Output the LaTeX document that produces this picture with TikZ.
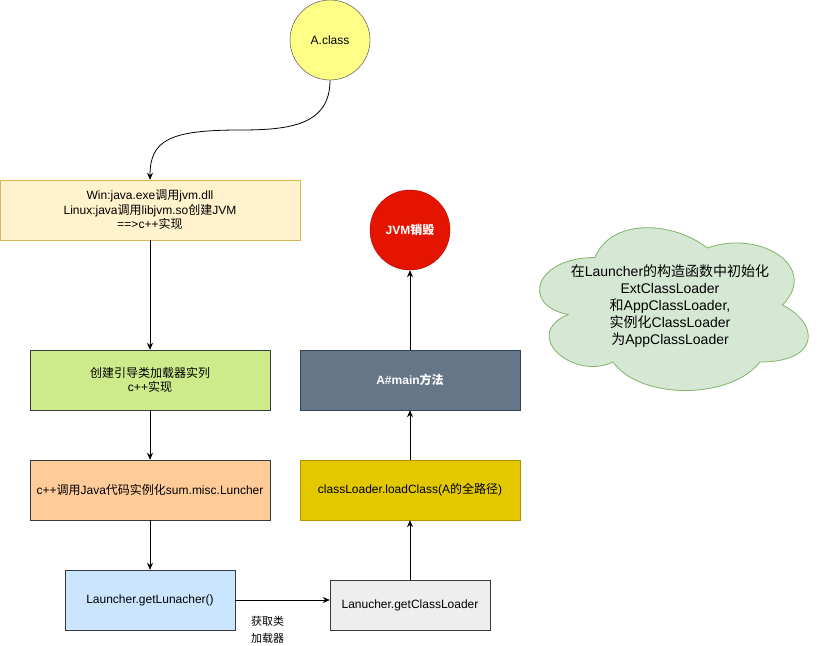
\documentclass[tikz,border=0pt]{standalone}
\usepackage{fontspec}
\setmainfont{Liberation Sans}
\newfontfamily\cjk{Noto Sans CJK SC}
\newcommand{\zh}[1]{{\cjk #1}}
\usetikzlibrary{arrows.meta}
\definecolor{darkline}{HTML}{36393D}
\definecolor{classfill}{HTML}{FFFF88}
\definecolor{winfill}{HTML}{FFF2CC}
\definecolor{winline}{HTML}{D6B656}
\definecolor{bootfill}{HTML}{CDEB8B}
\definecolor{javafill}{HTML}{FFCC99}
\definecolor{lunfill}{HTML}{CCE5FF}
\definecolor{getfill}{HTML}{EEEEEE}
\definecolor{loadfill}{HTML}{E3C800}
\definecolor{loadline}{HTML}{B09500}
\definecolor{mainfill}{HTML}{647687}
\definecolor{mainline}{HTML}{314354}
\definecolor{jvmfill}{HTML}{E51400}
\definecolor{jvmline}{HTML}{B20000}
\definecolor{cloudfill}{HTML}{D5E8D4}
\definecolor{cloudline}{HTML}{82B366}
\begin{document}
\begin{tikzpicture}[x=1pt, y=-1pt,
  every node/.style={font=\fontsize{12}{14.5}\selectfont, align=center, inner sep=0pt},
  stepbox/.style={draw=darkline, rectangle, minimum height=60pt},
  endpoint/.style={draw=darkline, circle, minimum size=80pt},
  flow/.style={-{Stealth[length=7pt, width=6pt]}, line width=0.8pt}]
\useasboundingbox (0,0) rectangle (821,645);
\node[endpoint, fill=classfill] (aclass) at (330,40) {A.class};
\node[stepbox, draw=winline, fill=winfill, minimum width=300pt] (win) at (150,210)
  {Win:java.exe\zh{调用}jvm.dll\\Linux:java\zh{调用}libjvm.so\zh{创建}JVM\\==>c++\zh{实现}};
\node[stepbox, fill=bootfill, minimum width=240pt] (boot) at (150,380) {\zh{创建引导类加载器实列}\\c++\zh{实现}};
\node[stepbox, fill=javafill, minimum width=240pt] (java) at (150,490) {c++\zh{调用}Java\zh{代码实例化}sum.misc.Luncher};
\node[stepbox, fill=lunfill, minimum width=170pt] (lun) at (150,600) {Launcher.getLunacher()};
\node[stepbox, fill=getfill, minimum width=160pt, minimum height=50pt] (getcl) at (410,605) {Lanucher.getClassLoader};
\node[stepbox, draw=loadline, fill=loadfill, minimum width=220pt] (load) at (410,490) {classLoader.loadClass(A\zh{的全路径})};
\node[stepbox, draw=mainline, fill=mainfill, minimum width=220pt, text=white, font=\fontsize{12}{14.5}\selectfont\bfseries] (main) at (410,380) {A\#main\zh{方法}};
\node[endpoint, draw=jvmline, fill=jvmfill, text=white, font=\fontsize{12}{14.5}\selectfont\bfseries] (jvm) at (410,230) {JVM\zh{销毁}};
% cloud
\draw[draw=cloudline, fill=cloudfill, line width=0.8pt] (595,257.5)
  .. controls (535,257.5) and (520,305) .. (568,314.5)
  .. controls (520,335.4) and (574,381) .. (613,362)
  .. controls (640,400) and (730,400) .. (760,362)
  .. controls (820,362) and (820,324) .. (782.5,305)
  .. controls (820,267) and (760,229) .. (707.5,248)
  .. controls (670,219.5) and (610,219.5) .. (595,257.5) -- cycle;
\node[font=\fontsize{14}{16.8}\selectfont] (note) at (670,306) {\zh{在}Launcher\zh{的构造函数中初始化}\\ExtClassLoader\\\zh{和}AppClassLoader,\\\zh{实例化}ClassLoader\\\zh{为}AppClassLoader};
% edges
\draw[flow] (aclass.south) .. controls (330,125) and (290,130) .. (240,130)
  .. controls (170,130) and (150,140) .. (win.north);
\draw[flow] (win) -- (boot);
\draw[flow] (boot) -- (java);
\draw[flow] (java) -- (lun);
\draw[flow] (lun) -- (lun -| getcl.west);
\node[anchor=north west, align=left, font=\fontsize{11}{17}\selectfont] (getlabel) at (251,616) {\zh{获取类}\\\zh{加载器}};
\draw[flow] (getcl) -- (load);
\draw[flow] (load) -- (main);
\draw[flow] (main) -- (jvm);
\end{tikzpicture}
\end{document}
